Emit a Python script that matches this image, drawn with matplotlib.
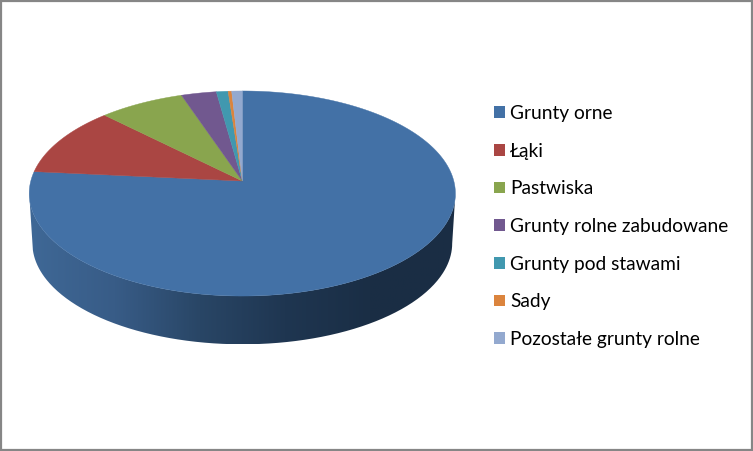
import numpy as np
import matplotlib
matplotlib.use('Agg')
import matplotlib.pyplot as plt
from matplotlib.colors import LinearSegmentedColormap
from matplotlib.patches import Patch, PathPatch, Polygon, Rectangle
from matplotlib.path import Path

# land use shares, %
labels = ['Grunty orne', 'Łąki', 'Pastwiska', 'Grunty rolne zabudowane',
          'Grunty pod stawami', 'Sady', 'Pozostałe grunty rolne']
values = [76.5, 11.0, 7.3, 3.0, 1.0, 0.3, 0.9]
colors = ['#4371A6', '#AA4643', '#89A54E', '#71588F', '#4198AF', '#DB843D', '#93A9CF']

# the tilted pie: centre in pixels, perspective, thickness
cx, cy = 242.3, 181.0
A, B, k = 101.0, 211.5, 0.122
depth = 50.0
shrink = 0.985
side_colors = ['#3F6896', '#385C87', '#294666', '#1F3651', '#1A2E45', '#1A2D44']


def project(t, scale=1.0, drop=0.0):
    # t clockwise from 12 o'clock, circle goes to an ellipse through a homography
    u, v = np.sin(t), np.cos(t)
    w = 1 + k * v
    return cx + scale * B * u / w, cy + drop - scale * A * v / w


fig = plt.figure(figsize=(7.53, 4.51), dpi=100, facecolor='white')
ax = fig.add_axes([0, 0, 1, 1])
ax.set_xlim(0, 753)
ax.set_ylim(451, 0)
ax.axis('off')

# side wall, only the front part shows
t0 = np.arccos(-k)
front = np.linspace(t0, 2 * np.pi - t0, 300)
x1, y1 = project(front)
x2, y2 = project(front[::-1], shrink, depth)
wall = Path(np.column_stack([np.r_[x1, x2], np.r_[y1, y2]]))
wall_patch = PathPatch(wall, facecolor='none', edgecolor='none')
ax.add_patch(wall_patch)
cmap = LinearSegmentedColormap.from_list('wall', side_colors[::-1])
# front runs right to left, so the ramp is dark on the right
img = ax.imshow(np.linspace(1, 0, 256)[None, :], cmap=cmap, vmin=0, vmax=1, aspect='auto',
                extent=[x1.min(), x1.max(), y2.max(), y1.min()], zorder=1)
img.set_clip_path(wall_patch)
ax.set_xlim(0, 753)
ax.set_ylim(451, 0)

# top face, starts at 12 o'clock and goes clockwise
fractions = np.array(values) / sum(values)
edges = np.r_[0, np.cumsum(fractions)] * 2 * np.pi
for i in range(len(values)):
    arc = np.linspace(edges[i], edges[i + 1], 300)
    xs, ys = project(arc)
    pts = np.column_stack([np.r_[cx, xs], np.r_[cy, ys]])
    ax.add_patch(Polygon(pts, closed=True, facecolor=colors[i], edgecolor=colors[i],
                         linewidth=0.3, zorder=2))

# legend
font_px = 19.15
font_pt = font_px * 72 / 100
handles = [Patch(facecolor=c, edgecolor='none') for c in colors]
ax.legend(handles, labels, loc='upper left', bbox_to_anchor=(494, 104.8), bbox_transform=ax.transData,
          frameon=False, prop={'family': 'Lato', 'size': font_pt}, borderpad=0, borderaxespad=0,
          handlelength=11 / font_px, handleheight=11 / font_px, handletextpad=5 / font_px,
          labelspacing=20.7 / font_px, labelcolor='black')

# grey frame of the chart area
ax.add_patch(Rectangle((1, 0.8), 750.8, 449.4, facecolor='none', edgecolor='#868686',
                       linewidth=1.6, zorder=5))

fig.savefig('out.png', dpi=100, facecolor='white')
